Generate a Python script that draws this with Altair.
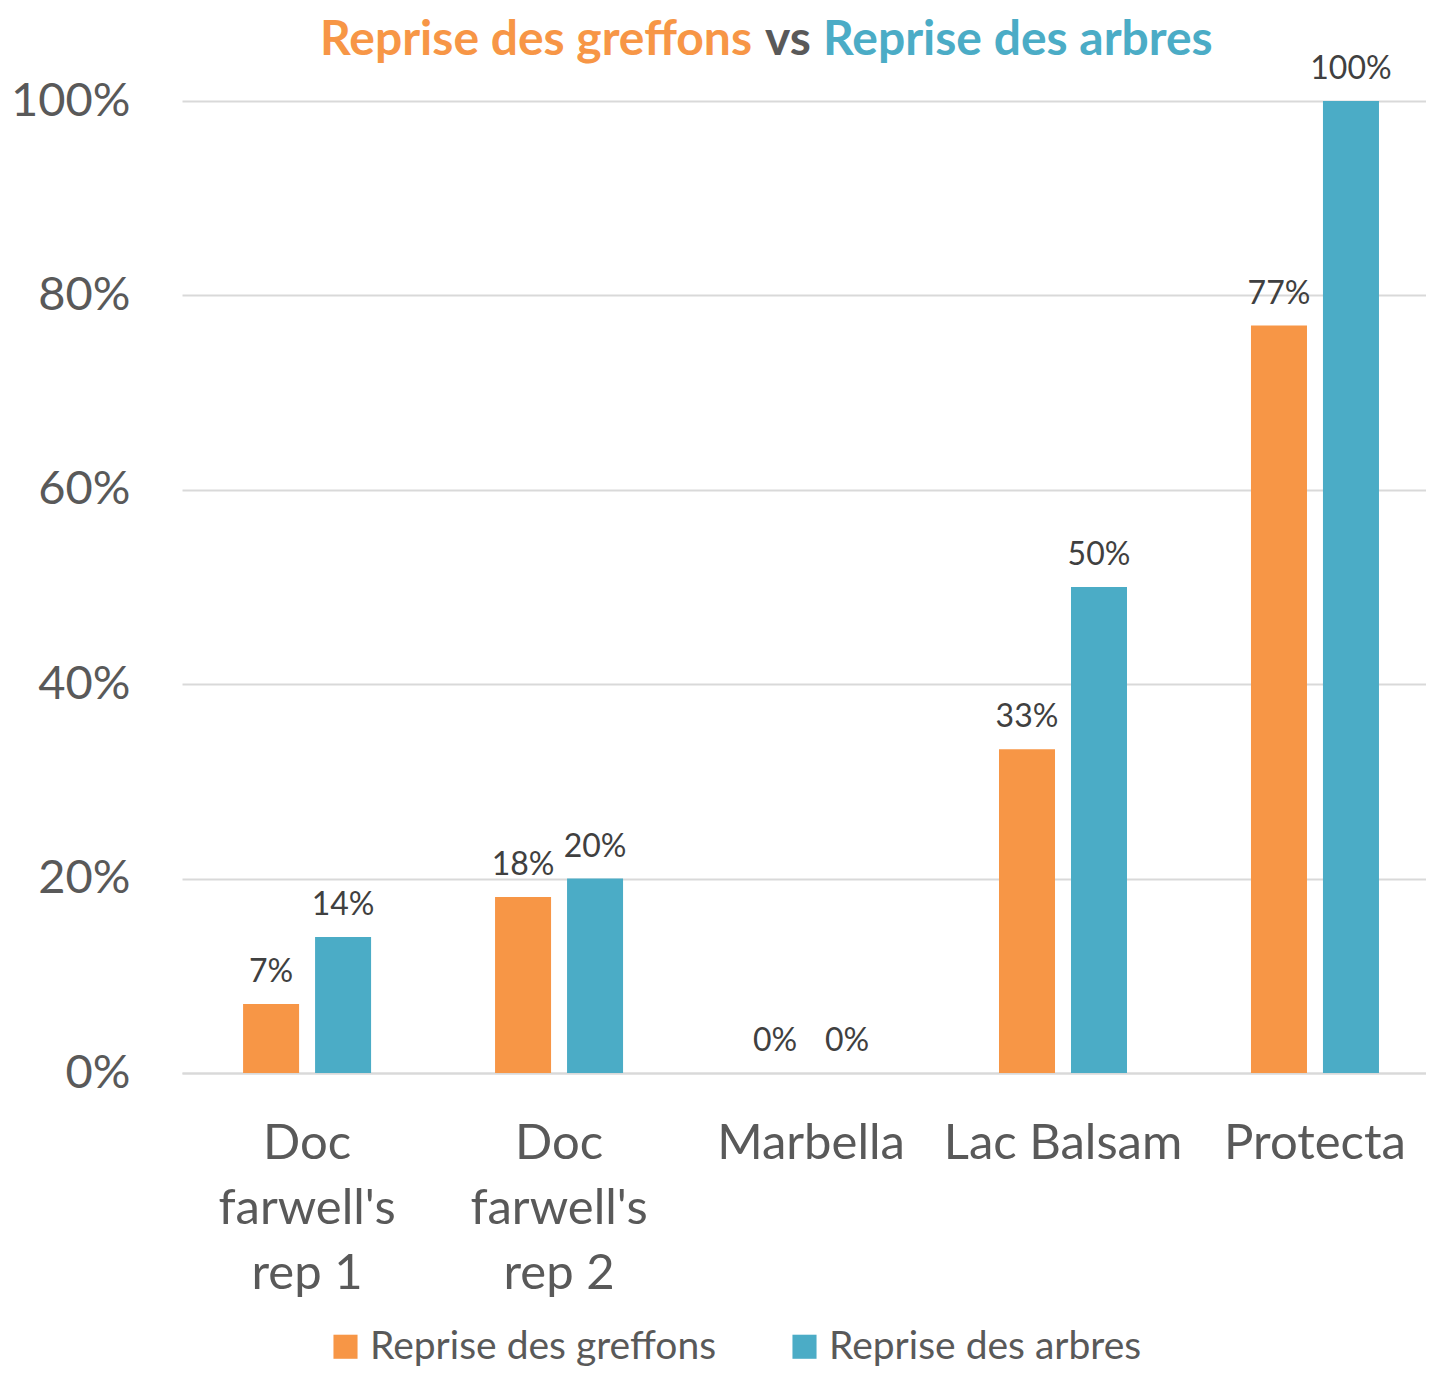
import altair as alt
import pandas as pd

categories = ["Doc farwell's rep 1", "Doc farwell's rep 2", "Marbella", "Lac Balsam", "Protecta"]
series_names = ["Reprise des greffons", "Reprise des arbres"]
greffons = [0.071, 0.181, 0.0, 0.333, 0.769]
arbres = [0.14, 0.20, 0.0, 0.50, 1.00]
colors = ["#F79646", "#4BACC6"]
y_ticks = [0, 0.2, 0.4, 0.6, 0.8, 1.0]

rows = []
for c, g, a in zip(categories, greffons, arbres):
    rows.append({"cat": c, "serie": series_names[0], "val": g})
    rows.append({"cat": c, "serie": series_names[1], "val": a})
df = pd.DataFrame(rows)

FONT = "Lato"

x_enc = alt.X(
    "cat:N", sort=categories, title=None,
    scale=alt.Scale(paddingInner=0.492, paddingOuter=0.2145, align=0.565),
    axis=alt.Axis(
        labelAngle=0, ticks=False, domain=True, domainColor="#d9d9d9", domainWidth=2,
        labelFont=FONT, labelFontSize=49, labelColor="#595959", labelPadding=46,
        labelLineHeight=65, labelBaseline="top", labelLimit=400,
        labelExpr="split(replace(replace(datum.value, 'Doc ', 'Doc|'), ' rep', '|rep'), '|')",
    ),
)
xoff = alt.XOffset("serie:N", sort=series_names, scale=alt.Scale(paddingInner=0.222, paddingOuter=0))
y_enc = alt.Y(
    "val:Q", title=None,
    scale=alt.Scale(domain=[0, 1], nice=False),
    axis=alt.Axis(
        values=y_ticks, format=".0%", domain=False, ticks=False,
        gridColor="#d9d9d9", gridWidth=2,
        labelFont=FONT, labelFontSize=47, labelColor="#595959", labelPadding=52,
    ),
)
color_enc = alt.Color(
    "serie:N", sort=series_names, title=None,
    scale=alt.Scale(domain=series_names, range=colors),
    legend=alt.Legend(
        orient="none", legendX=144, legendY=1226, direction="horizontal",
        symbolType="square", symbolSize=580, symbolStrokeWidth=0, symbolOpacity=1,
        labelFont=FONT, labelFontSize=39, labelColor="#595959", columnPadding=68,
        labelOffset=5, labelLimit=500,
    ),
)

base = alt.Chart(df)
bars = base.mark_bar().encode(x=x_enc, xOffset=xoff, y=y_enc, color=color_enc)
labels = base.mark_text(
    baseline="bottom", dy=-15, font=FONT, fontSize=32, color="#404040"
).encode(x=x_enc, xOffset=xoff, y=y_enc, text=alt.Text("val:Q", format=".0%"))

title_parts = ["Reprise des greffons", "vs", "Reprise des arbres"]
title_colors = ["#F79646", "#595959", "#4BACC6"]
title_align = ["right", "center", "left"]
title_x = [570, 606, 641]
title_layers = []
for t, col, al, xx in zip(title_parts, title_colors, title_align, title_x):
    title_layers.append(
        alt.Chart(pd.DataFrame({"t": [t]})).mark_text(
            font=FONT, fontSize=48, fontWeight="bold", color=col, align=al, baseline="middle"
        ).encode(x=alt.value(xx), y=alt.value(-60), text="t:N")
    )

chart = alt.layer(bars, labels, *title_layers).properties(
    width=1244, height=972,
    autosize=alt.AutoSizeParams(type="none"),
    padding={"left": 174, "top": 93, "right": 0, "bottom": 294},
).configure_view(stroke=None)

chart.save("out.html", embed_options={"renderer": "svg", "actions": False})
